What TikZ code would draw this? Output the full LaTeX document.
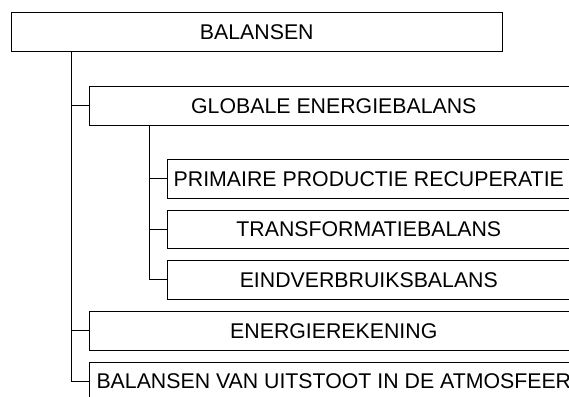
\documentclass[tikz,border=0pt]{standalone}
\usepackage{fontspec}
\setmainfont{Liberation Sans}
\begin{document}
\begin{tikzpicture}[x=1pt,y=-1pt,
  box/.style={draw=black,line width=1.2pt,inner sep=0pt,anchor=north west,
    minimum height=38.5pt,font=\fontsize{21.3}{25}\selectfont},
  lvlone/.style={box,minimum width=489pt},
  lvltwo/.style={box,minimum width=403pt},
  link/.style={draw=black,line width=1.2pt}]
\useasboundingbox (0,0) rectangle (569,396);
\clip (0,0) rectangle (569,396);
\node[box,minimum width=491pt] (root) at (10.7,12) {BALANSEN};
\node[lvlone] (glob) at (88.7,86) {GLOBALE ENERGIEBALANS};
\node[lvltwo] (prim) at (166.7,159) {PRIMAIRE PRODUCTIE RECUPERATIE};
\node[lvltwo] (trans) at (166.7,209.5) {TRANSFORMATIEBALANS};
\node[lvltwo] (eind) at (166.7,260) {EINDVERBRUIKSBALANS};
\node[lvlone] (ener) at (88.7,311) {ENERGIEREKENING};
\node[lvlone] (uit) at (88.7,361.5) {BALANSEN VAN UITSTOOT IN DE ATMOSFEER};
\coordinate (rootfoot) at ([xshift=60.8pt]root.south west);
\coordinate (globfoot) at ([xshift=60.6pt]glob.south west);
\draw[link] (rootfoot) |- (glob.west);
\draw[link] (rootfoot) |- (ener.west);
\draw[link] (rootfoot) |- (uit.west);
\draw[link] (globfoot) |- (prim.west);
\draw[link] (globfoot) |- (trans.west);
\draw[link] (globfoot) |- (eind.west);
\end{tikzpicture}
\end{document}
